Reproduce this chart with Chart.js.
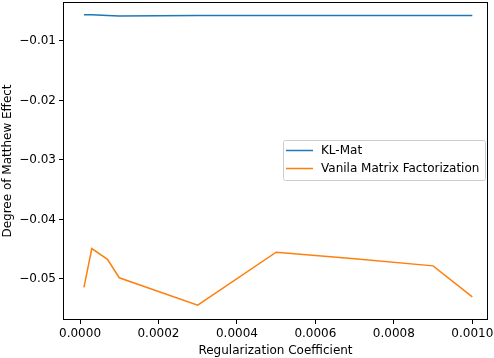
<!DOCTYPE html>
<html>
<head>
<meta charset="utf-8">
<script src="https://cdn.jsdelivr.net/npm/chart.js@4"></script>
<style>
  html, body { margin: 0; padding: 0; background: #fff; }
  #wrap { width: 494px; height: 358px; }
</style>
</head>
<body>
<div id="wrap"><canvas id="chart" width="494" height="358"></canvas></div>
<script>
// values
const coefs = [0.00001, 0.00003, 0.00007, 0.0001, 0.0003, 0.0005, 0.0007, 0.0009, 0.001];
const klMat = [-0.0056, -0.0056, -0.0057, -0.0058, -0.0057, -0.0057, -0.0057, -0.0057, -0.0057];
const vanilla = [-0.0514, -0.0449, -0.0467, -0.0498, -0.0544, -0.0455, -0.0466, -0.0478, -0.0530];
const xTicks = [0, 0.0002, 0.0004, 0.0006, 0.0008, 0.001];
const yTicks = [-0.05, -0.04, -0.03, -0.02, -0.01];

const font = "'DejaVu Sans', sans-serif";

function toPoints(ys) {
    return coefs.map((x, i) => ({ x: x, y: ys[i] }));
}

// box around the plot, like matplotlib spines
const frame = {
    id: 'frame',
    afterDatasetsDraw(chart) {
        const a = chart.chartArea;
        const ctx = chart.ctx;
        ctx.save();
        ctx.strokeStyle = '#000';
        ctx.lineWidth = 1;
        ctx.strokeRect(a.left + 0.5, a.top + 0.5, a.right - a.left - 1, a.bottom - a.top - 1);
        ctx.restore();
    }
};

// legend box drawn inside the plot, centre right
const boxLegend = {
    id: 'boxLegend',
    afterDraw(chart) {
        const ctx = chart.ctx;
        const x = 283, y = 140, w = 202, h = 40;
        ctx.save();
        ctx.fillStyle = 'rgba(255,255,255,0.8)';
        ctx.strokeStyle = '#cccccc';
        ctx.lineWidth = 1;
        ctx.beginPath();
        ctx.roundRect(x + 0.5, y + 0.5, w, h, 2);
        ctx.fill();
        ctx.stroke();
        ctx.font = '12px ' + font;
        ctx.textBaseline = 'middle';
        chart.data.datasets.forEach((ds, i) => {
            const ly = y + 10.5 + i * 18;
            ctx.strokeStyle = ds.borderColor;
            ctx.lineWidth = 1.5;
            ctx.beginPath();
            ctx.moveTo(x + 3, ly);
            ctx.lineTo(x + 30, ly);
            ctx.stroke();
            ctx.fillStyle = '#000';
            ctx.fillText(ds.label, x + 38, ly);
        });
        ctx.restore();
    }
};

new Chart(document.getElementById('chart'), {
    type: 'line',
    data: {
        datasets: [{
            label: 'KL-Mat',
            data: toPoints(klMat),
            borderColor: '#1f77b4',
            backgroundColor: '#1f77b4',
            borderWidth: 1.5,
            pointRadius: 0,
            tension: 0
        }, {
            label: 'Vanila Matrix Factorization',
            data: toPoints(vanilla),
            borderColor: '#ff7f0e',
            backgroundColor: '#ff7f0e',
            borderWidth: 1.5,
            pointRadius: 0,
            tension: 0
        }]
    },
    plugins: [frame, boxLegend],
    options: {
        responsive: false,
        animation: false,
        layout: {
            padding: { top: 2, right: 6, left: 0, bottom: 0 }
        },
        plugins: {
            legend: { display: false },
            tooltip: { enabled: false }
        },
        scales: {
            x: {
                type: 'linear',
                min: -0.0000434,
                max: 0.00104,
                afterBuildTicks: scale => { scale.ticks = xTicks.map(v => ({ value: v })); },
                afterFit: scale => {
                    scale.height = 38;
                    scale.paddingLeft = 0;
                    scale.paddingRight = 0;
                },
                grid: { drawOnChartArea: false, drawTicks: true, tickLength: 4, color: '#000' },
                border: { display: false },
                ticks: {
                    color: '#000',
                    padding: 3,
                    maxRotation: 0,
                    font: { family: font, size: 12 },
                    callback: v => v.toFixed(4)
                },
                title: {
                    display: true,
                    text: 'Regularization Coefficient',
                    color: '#000',
                    padding: { top: 0, bottom: 0 },
                    font: { family: font, size: 12 }
                }
            },
            y: {
                min: -0.0569,
                max: -0.00345,
                afterBuildTicks: scale => { scale.ticks = yTicks.map(v => ({ value: v })); },
                afterFit: scale => {
                    scale.width = 63;
                    scale.paddingTop = 0;
                    scale.paddingBottom = 0;
                },
                grid: { drawOnChartArea: false, drawTicks: true, tickLength: 4, color: '#000' },
                border: { display: false },
                ticks: {
                    color: '#000',
                    padding: 3,
                    font: { family: font, size: 12 },
                    callback: v => '\u2212' + Math.abs(v).toFixed(2)
                },
                title: {
                    display: true,
                    text: 'Degree of Matthew Effect',
                    color: '#000',
                    padding: { top: 1, bottom: 2 },
                    font: { family: font, size: 12 }
                }
            }
        }
    }
});
</script>
</body>
</html>
